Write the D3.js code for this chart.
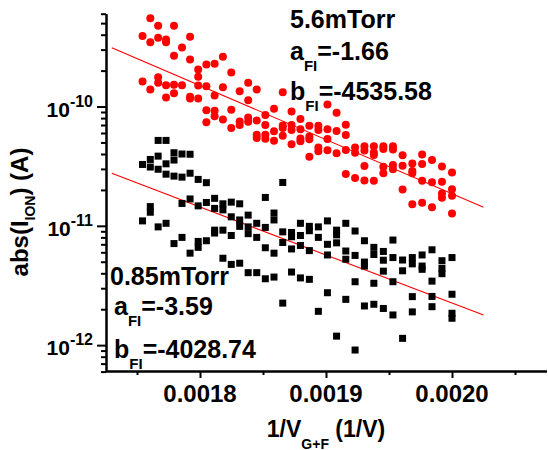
<!DOCTYPE html>
<html><head><meta charset="utf-8">
<script src="https://cdn.jsdelivr.net/npm/d3@7"></script>
<style>
body{margin:0;background:#fff}
svg{display:block}
text{font-family:"Liberation Sans",Arial,Helvetica,sans-serif;font-weight:bold;fill:#000}
</style>
</head><body>
<svg id="chart" width="548" height="450"></svg>
<script>
// ---- data: [gate voltage V, abs(I_ION) in A] ----
const high = [
[570,3.9e-10],[570,1.62e-10],
[568,5.5e-10],[568,3.45e-10],[568,1.39e-10],
[566,4.75e-10],[566,3.77e-10],[566,1.76e-10],[566,1.58e-10],
[564,3.64e-10],[564,3.45e-10],[564,1.51e-10],[564,1.19e-10],
[562,4.75e-10],[562,2.66e-10],[562,1.52e-10],[562,1.29e-10],
[560,3.13e-10],[560,1.51e-10],
[558,3.85e-10],[558,2.48e-10],[558,1.21e-10],[558,1.17e-10],
[556,2.04e-10],[556,1.78e-10],[556,1.5e-10],[556,1.17e-10],
[554,2.25e-10],[554,1.48e-10],[554,9.3e-11],[554,7.4e-11],
[552,2.28e-10],[552,1.24e-10],[552,9.2e-11],[552,8.3e-11],
[550,2.61e-10],[550,1.45e-10],[550,7.8e-11],
[548,1.93e-10],[548,9.4e-11],[548,6.6e-11],
[546,1.34e-10],[546,7.5e-11],[546,7.0e-11],
[544,1.58e-10],[544,1.13e-10],[544,8.1e-11],[544,7.45e-11],
[542,1.39e-10],[542,7.65e-11],[542,5.8e-11],[542,5.45e-11],
[540,8.5e-11],[540,7.0e-11],[540,5.8e-11],[540,5.37e-11],
[538,9.6e-11],[538,6.2e-11],[538,5.17e-11],
[536,1.32e-10],[536,6.95e-11],[536,6.6e-11],[536,5.7e-11],
[534,9.1e-11],[534,7.0e-11],[534,6.35e-11],[534,4.83e-11],
[532,7.85e-11],[532,6.45e-11],[532,5.4e-11],[532,5.12e-11],
[530,6.9e-11],[530,5.6e-11],[530,5.32e-11],[530,3.8e-11],
[528,6.9e-11],[528,6.35e-11],[528,4.53e-11],[528,4.22e-11],
[526,1.04e-10],[526,6.45e-11],[526,5.35e-11],[526,4.3e-11],
[524,8.85e-11],[524,6.25e-11],[524,4.05e-11],
[522,7.05e-11],[522,5.77e-11],[522,4.32e-11],[522,2.72e-11],
[520,4.53e-11],[520,4.09e-11],[520,2.52e-11],
[518,4.64e-11],[518,4.28e-11],[518,3.17e-11],[518,2.4e-11],
[516,4.65e-11],[516,4.12e-11],[516,3.92e-11],[516,2.39e-11],
[514,4.65e-11],[514,4.4e-11],[514,3.13e-11],[514,2.76e-11],
[512,4.65e-11],[512,4.36e-11],[512,3.23e-11],[512,2.98e-11],
[510,3.9e-11],[510,3.19e-11],[510,2.02e-11],
[508,3.33e-11],[508,2.88e-11],[508,2.76e-11],[508,1.52e-11],
[506,3.96e-11],[506,3.3e-11],[506,2.39e-11],[506,1.56e-11],
[504,3.56e-11],[504,2.32e-11],[504,1.43e-11],
[502,3.15e-11],[502,2.34e-11],[502,1.87e-11],[502,1.72e-11],
[500,2.8e-11],[500,2.03e-11],[500,1.79e-11],[500,1.27e-11]
];
const low = [
[570,3.27e-11],[570,1.1e-11],
[568,3.6e-11],[568,3.11e-11],[568,1.45e-11],[568,1.3e-11],
[566,5.2e-11],[566,3.84e-11],[566,2.98e-11],[566,9.8e-12],
[564,5.2e-11],[564,3.31e-11],[564,2.71e-11],[564,1.05e-11],
[562,4.1e-11],[562,3.56e-11],[562,2.61e-11],[562,7.1e-12],
[560,4.0e-11],[560,2.56e-11],[560,1.54e-11],[560,8.0e-12],
[558,3.98e-11],[558,2.76e-11],[558,1.68e-11],[558,5.9e-12],
[556,2.45e-11],[556,1.47e-11],[556,7.4e-12],[556,6.6e-12],
[554,2.3e-11],[554,1.57e-11],[554,7.5e-12],
[552,1.7e-11],[552,1.4e-11],[552,9.2e-12],[552,8.7e-12],
[550,1.53e-11],[550,1.36e-11],[550,9.2e-12],[550,5.35e-12],
[548,1.58e-11],[548,1.19e-11],[548,8.3e-12],[548,4.75e-12],
[546,1.53e-11],[546,1.12e-11],[546,9.9e-12],[546,4.86e-12],
[544,1.23e-11],[544,9.8e-12],[544,8.6e-12],[544,4.05e-12],
[542,1.05e-11],[542,8.0e-12],[542,4.05e-12],
[540,1.73e-11],[540,9.7e-12],[540,6.55e-12],[540,3.6e-12],
[538,1.28e-11],[538,1.12e-11],[538,5.9e-12],[538,3.72e-12],
[536,2.31e-11],[536,8.9e-12],[536,7.25e-12],[536,2.25e-12],
[534,8.8e-12],[534,8.1e-12],[534,6.4e-12],[534,4.1e-12],
[532,1.05e-11],[532,8.3e-12],[532,6.85e-12],[532,3.66e-12],
[530,9.9e-12],[530,9.1e-12],[530,6.2e-12],[530,3.56e-12],
[528,9.8e-12],[528,8.0e-12],[528,1.92e-12],
[526,1.1e-11],[526,7.0e-12],[526,5.7e-12],[526,2.75e-12],
[524,9.2e-12],[524,8.4e-12],[524,7.2e-12],[524,1.19e-12],
[522,1.05e-11],[522,6.15e-12],[522,5.25e-12],[522,2.42e-12],
[520,9.05e-12],[520,5.65e-12],[520,3.4e-12],[520,9.1e-13],
[518,7.5e-12],[518,4.97e-12],[518,4.6e-12],[518,2.13e-12],
[516,6.6e-12],[516,5.75e-12],[516,3.3e-12],[516,2.2e-12],
[514,6.1e-12],[514,5.15e-12],[514,4.17e-12],[514,2.03e-12],
[512,7.6e-12],[512,5.42e-12],[512,3.4e-12],[512,1.79e-12],
[510,5.17e-12],[510,4.2e-12],[510,1.14e-12],
[508,5.42e-12],[508,4.8e-12],[508,2.55e-12],[508,1.9e-12],
[506,5.7e-12],[506,4.6e-12],[506,4.32e-12],
[504,6.3e-12],[504,3.44e-12],[504,2.56e-12],[504,2.1e-12],
[502,5.1e-12],[502,4.4e-12],[502,3.97e-12],
[500,5.42e-12],[500,2.67e-12],[500,1.85e-12],[500,1.68e-12]
];
// fit: log10(I) = aFI + bFI * (1/V)
const fitNames = ["5.6mTorr", "0.85mTorr"];
const fitA = [-1.66, -3.59];
const fitB = [-4535.58, -4028.74];
const fitX = [0.00173, 0.002025];
const xMajor = [0.0018, 0.0019, 0.0020];
const xMinor = [0.00175, 0.00185, 0.00195, 0.00205];
const yMajorExp = [-10, -11, -12];

// ---- scales ----
const x = d3.scaleLinear().domain([0.001725, 0.002075]).range([105.5, 546.5]);
const y = d3.scaleLog().domain([6e-13, 6e-10]).range([371.6, 13.7]);

const svg = d3.select("#chart");

// fit lines
const line = d3.line().x(d => x(d[0])).y(d => y(d[1]));
fitA.forEach((a, i) => {
  const pts = fitX.map(v => [v, Math.pow(10, a + fitB[i] * v)]);
  svg.append("path").attr("d", line(pts)).attr("fill", "none")
     .attr("stroke", "#ff0000").attr("stroke-width", 1.1);
});

// points
svg.append("g").selectAll("circle").data(high).join("circle")
  .attr("cx", d => x(1 / d[0])).attr("cy", d => y(d[1])).attr("r", 4)
  .attr("fill", "#ff0000");
const s = 7;
svg.append("g").selectAll("rect").data(low).join("rect")
  .attr("x", d => x(1 / d[0]) - s / 2).attr("y", d => y(d[1]) - s / 2)
  .attr("width", s).attr("height", s).attr("fill", "#000");

// ---- axes ----
const yMinor = [];
for (let e = -13; e <= -10; e++) for (let m = 1; m <= 9; m++) {
  const v = m * Math.pow(10, e);
  if (v >= 6e-13 * 0.999 && v <= 6e-10 * 1.001) yMinor.push(v);
}
const yMajorVals = yMajorExp.map(e => Math.pow(10, e));
const gy = svg.append("g").attr("transform", "translate(106,0)");
gy.call(d3.axisLeft(y).tickValues(yMinor.filter(v => !yMajorVals.some(m => Math.abs(m - v) / m < 1e-6)))
  .tickSize(5).tickSizeOuter(0).tickFormat(""));
gy.append("g").call(d3.axisLeft(y).tickValues(yMajorVals).tickSize(9).tickSizeOuter(0).tickFormat(""));
gy.selectAll("path,line").attr("stroke", "#000").attr("stroke-width", 2);

const gx = svg.append("g").attr("transform", "translate(0,371)");
gx.call(d3.axisBottom(x).tickValues(xMinor).tickSize(4).tickSizeOuter(0).tickFormat(""));
gx.append("g").call(d3.axisBottom(x).tickValues(xMajor).tickSize(7).tickSizeOuter(0).tickFormat(""));
gx.selectAll("path,line").attr("stroke", "#000").attr("stroke-width", 2);

// y tick labels with superscript
yMajorExp.forEach(e => {
  const t = svg.append("text").attr("x", 93).attr("y", y(Math.pow(10, e)) + 10)
    .attr("text-anchor", "end").attr("font-size", 21);
  t.append("tspan").text("10");
  t.append("tspan").attr("dy", -10).attr("font-size", 16).text(String(e));
});
// x tick labels
xMajor.forEach(v => {
  svg.append("text").attr("x", x(v)).attr("y", 401.5).attr("text-anchor", "middle")
    .attr("font-size", 24).text(v.toFixed(4));
});

// axis titles
const xt = svg.append("text").attr("x", 326).attr("y", 437).attr("text-anchor", "middle").attr("font-size", 23);
xt.append("tspan").text("1/V");
xt.append("tspan").attr("dy", 11.5).attr("font-size", 14).text("G+F");
xt.append("tspan").attr("dy", -11.5).text(" (1/V)");

const yt = svg.append("text").attr("transform", "translate(28,212) rotate(-90)")
  .attr("text-anchor", "middle").attr("font-size", 24);
yt.append("tspan").text("abs(I");
yt.append("tspan").attr("dy", 7).attr("font-size", 14).text("ION");
yt.append("tspan").attr("dy", -7).text(") (A)");

// annotations
function annot(x0, lines) {
  lines.forEach(l => {
    const t = svg.append("text").attr("x", x0 + (l.dx || 0)).attr("y", l.y).attr("font-size", 25);
    if (l.sub) {
      t.append("tspan").text(l.pre);
      t.append("tspan").attr("dy", 11).attr("font-size", 15).text(l.sub);
      t.append("tspan").attr("dy", -11).text(l.post);
    } else t.text(l.pre);
  });
}
annot(290, [
  {pre: fitNames[0], y: 28},
  {pre: "a", sub: "FI", post: "=" + fitA[0].toFixed(2), y: 59.5},
  {pre: "b", sub: "FI", post: "=" + fitB[0].toFixed(2), y: 100}
]);
annot(110, [
  {pre: fitNames[1], y: 285},
  {pre: "a", sub: "FI", post: "=" + fitA[1].toFixed(2), y: 315, dx: 4},
  {pre: "b", sub: "FI", post: "=" + fitB[1].toFixed(2), y: 357.5, dx: 4}
]);
</script>
</body></html>
